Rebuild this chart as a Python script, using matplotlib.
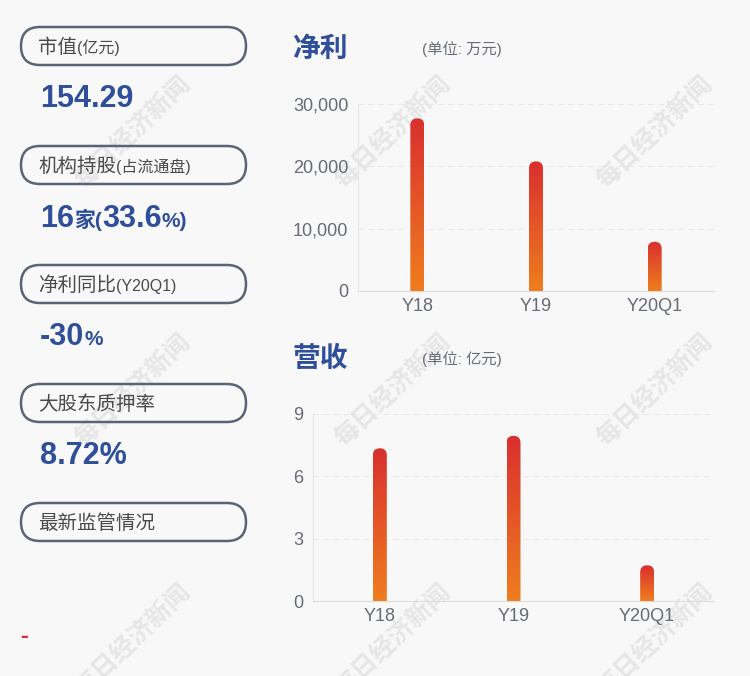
import matplotlib
matplotlib.use('Agg')
import matplotlib.pyplot as plt
from matplotlib.patches import FancyBboxPatch
from matplotlib.colors import LinearSegmentedColormap
import numpy as np

plt.rcParams['font.family'] = ['Liberation Sans', 'Noto Sans CJK SC', 'DejaVu Sans']

# data
categories = ['Y18', 'Y19', 'Y20Q1']
net_profit = [27700, 20800, 7900]      # 万元
revenue = [7.35, 7.95, 1.72]           # 亿元
profit_ticks = [0, 10000, 20000, 30000]
revenue_ticks = [0, 3, 6, 9]

pill_labels = [
    [('市值', 14), ('(亿元)', 11.5)],
    [('机构持股', 14), ('(占流通盘)', 11.5)],
    [('净利同比', 14), ('(Y20Q1)', 11.5)],
    [('大股东质押率', 14)],
    [('最新监管情况', 14)],
]
value_rows = [
    [('154.29', 22)],
    [('16', 22), ('家(', 15), ('33.6', 22), ('%)', 15)],
    [('-30', 22), ('%', 15)],
    [('8.72%', 22)],
]

W, H = 750, 676
BG = '#f8f8f8'
BLUE = '#2f4f9b'
GRAY = '#666b75'
cmap = LinearSegmentedColormap.from_list('g', ['#ef7d1e', '#d9302f'])

fig = plt.figure(figsize=(W / 100, H / 100), dpi=100, facecolor=BG)

# overlay in pixel coordinates
ov = fig.add_axes([0, 0, 1, 1])
ov.set_xlim(0, W)
ov.set_ylim(H, 0)
ov.axis('off')
ov.patch.set_alpha(0)

# watermarks
for cx in (133, 393, 655):
    for cy in (132, 390, 640):
        ov.text(cx, cy, '每日经济新闻', fontsize=18, fontweight='bold', color='#e6e6e6',
                rotation=44, ha='center', va='center', family=['Noto Sans CJK SC'], zorder=0)

renderer = fig.canvas.get_renderer()


def draw_segments(x, y, segs, color, weight):
    for s, size in segs:
        t = ov.text(x, y, s, fontsize=size, color=color, fontweight=weight,
                    ha='left', va='baseline', zorder=3)
        bb = t.get_window_extent(renderer)
        x += bb.width * W / fig.bbox.width


pill_y = [46, 165, 284, 403, 522]
for py, segs in zip(pill_y, pill_labels):
    ov.add_patch(FancyBboxPatch((21, py - 19), 225, 38, boxstyle='round,pad=0,rounding_size=19',
                                fc='none', ec='#596577', lw=1.8, zorder=2))
    draw_segments(38, py + 7, segs, '#4a4a4a', 'normal')

value_base = [107, 227, 345, 464]
for vy, segs in zip(value_base, value_rows):
    draw_segments(40, vy, segs, BLUE, 'bold')

ov.text(24, 636, '-', color='#d9302f', fontsize=17, fontweight='bold', ha='center', va='center')

# chart titles
for ty, title, unit in ((50, '净利', '(单位: 万元)'), (360, '营收', '(单位: 亿元)')):
    ov.text(292, ty, title, fontsize=20, fontweight='bold', color=BLUE, ha='left', va='center')
    ov.text(422, ty - 1, unit, fontsize=11, color=GRAY, ha='left', va='center')


def bar_chart(rect_px, vals, ticks, fmt):
    l, t, r, b = rect_px
    ax = fig.add_axes([l / W, 1 - b / H, (r - l) / W, (b - t) / H])
    ax.patch.set_alpha(0)
    x = np.arange(len(categories))
    xlim = (-0.5, len(categories) - 0.5)
    ylim = (ticks[0], ticks[-1])
    ux = (xlim[1] - xlim[0]) / (r - l)
    uy = (ylim[1] - ylim[0]) / (b - t)
    width = 14 * ux
    rad = 7 * ux
    grad = np.linspace(0, 1, 100).reshape(-1, 1)
    for xi, v in zip(x, vals):
        patch = FancyBboxPatch((xi - width / 2, -20 * uy), width, v + 20 * uy,
                               boxstyle='round,pad=0,rounding_size=%f' % rad,
                               mutation_aspect=uy / ux, fc='none', ec='none',
                               transform=ax.transData)
        ax.add_patch(patch)
        im = ax.imshow(grad, extent=(xi - width / 2, xi + width / 2, 0, v), origin='lower',
                       aspect='auto', cmap=cmap, zorder=3)
        im.set_clip_path(patch)
    ax.set_xlim(*xlim)
    ax.set_ylim(*ylim)
    ax.set_yticks(ticks)
    ax.set_yticklabels([fmt(v) for v in ticks])
    ax.set_xticks(x)
    ax.set_xticklabels(categories)
    ax.tick_params(length=0, labelsize=13, labelcolor=GRAY)
    ax.tick_params(axis='y', pad=7)
    ax.tick_params(axis='x', pad=5)
    for tv in ticks[1:]:
        ax.axhline(tv, color='#e8e8e8', lw=0.8, ls=(0, (5, 4)), zorder=1)
    for s in ('top', 'right'):
        ax.spines[s].set_visible(False)
    ax.spines['left'].set_color('#e6e6e6')
    ax.spines['bottom'].set_color('#dddddd')
    ax.spines['left'].set_linewidth(0.8)
    ax.spines['bottom'].set_linewidth(0.8)
    return ax


bar_chart((358, 104, 714, 291), net_profit, profit_ticks, lambda v: '{:,}'.format(v))
bar_chart((313, 414, 714, 601), revenue, revenue_ticks, lambda v: str(v))

fig.savefig('out.png', dpi=100, facecolor=BG)
